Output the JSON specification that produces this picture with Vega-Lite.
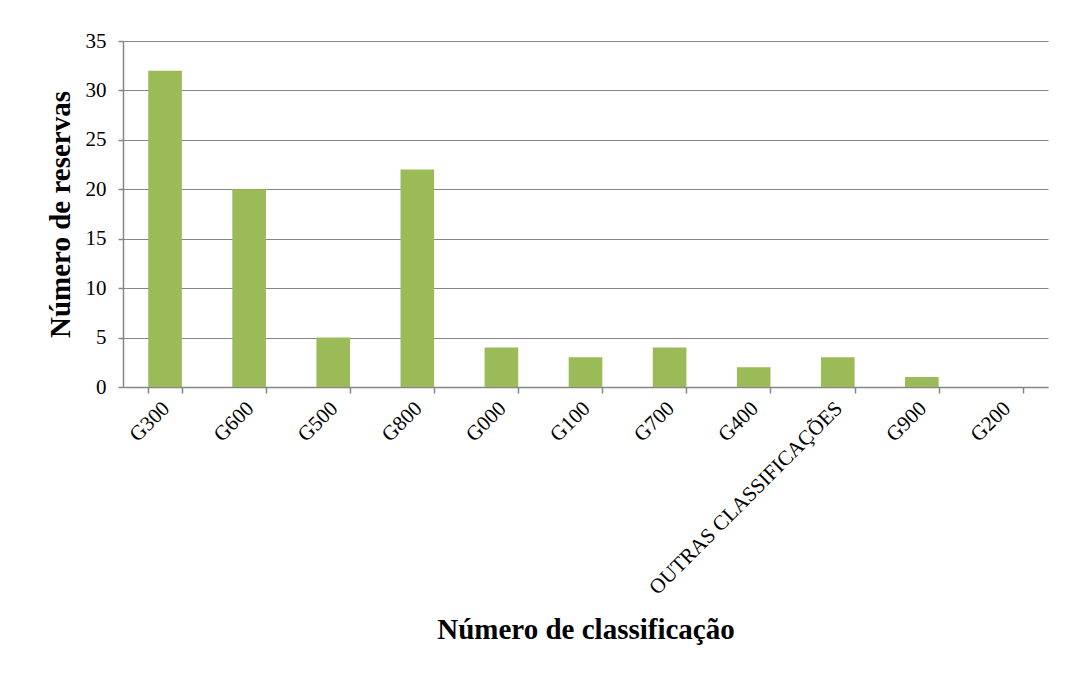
{
  "$schema": "https://vega.github.io/schema/vega-lite/v6.json",
  "autosize": {"type": "none"},
  "width": 925,
  "height": 346,
  "padding": {"left": 123, "top": 41, "right": 17, "bottom": 286},
  "background": "white",
  "config": {
    "font": "Liberation Serif",
    "view": {"stroke": null},
    "axis": {
      "labelFont": "Liberation Serif",
      "titleFont": "Liberation Serif",
      "labelColor": "black",
      "titleColor": "black",
      "labelFontSize": 21,
      "titleFontSize": 29,
      "titleFontWeight": "bold",
      "labelLimit": 0,
      "domainColor": "#868686",
      "tickColor": "#868686",
      "gridColor": "#868686",
      "domainWidth": 1.5,
      "tickWidth": 1.5,
      "gridWidth": 1.2
    }
  },
  "data": {
    "values": [
      {"classe": "G300", "reservas": 32},
      {"classe": "G600", "reservas": 20},
      {"classe": "G500", "reservas": 5},
      {"classe": "G800", "reservas": 22},
      {"classe": "G000", "reservas": 4},
      {"classe": "G100", "reservas": 3},
      {"classe": "G700", "reservas": 4},
      {"classe": "G400", "reservas": 2},
      {"classe": "OUTRAS CLASSIFICAÇÕES", "reservas": 3},
      {"classe": "G900", "reservas": 1},
      {"classe": "G200", "reservas": 0}
    ]
  },
  "mark": {"type": "bar", "color": "#9BBB59"},
  "encoding": {
    "x": {
      "field": "classe",
      "type": "nominal",
      "sort": null,
      "scale": {"paddingInner": 0.6, "paddingOuter": 0.3},
      "axis": {
        "title": "Número de classificação",
        "labelAngle": -45,
        "labelAlign": "right",
        "labelBaseline": "middle",
        "labelPadding": 12,
        "labelOffset": 1,
        "tickBand": "extent",
        "tickSize": 6,
        "grid": false,
        "titlePadding": 28
      }
    },
    "y": {
      "field": "reservas",
      "type": "quantitative",
      "scale": {"domain": [0, 35]},
      "axis": {
        "title": "Número de reservas",
        "values": [0, 5, 10, 15, 20, 25, 30, 35],
        "tickSize": 5,
        "labelPadding": 12,
        "titlePadding": 10,
        "grid": true
      }
    }
  }
}
